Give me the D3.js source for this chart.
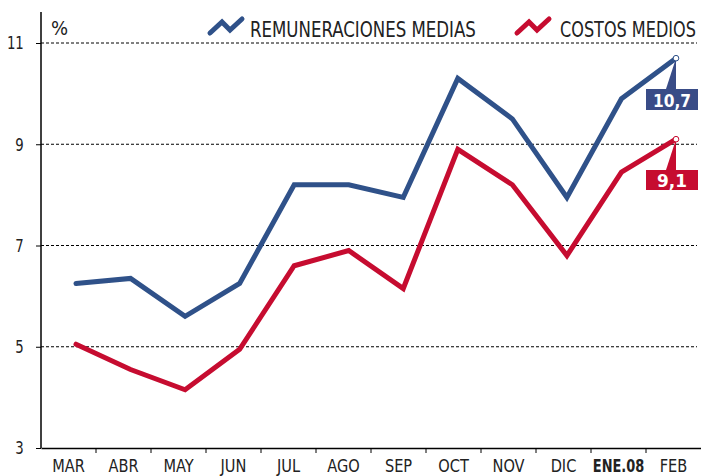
<!DOCTYPE html>
<html><head><meta charset="utf-8">
<script src="https://cdn.jsdelivr.net/npm/d3@7"></script>
<style>
body{margin:0;background:#fff;}
text{font-family:"DejaVu Sans Condensed","DejaVu Sans",sans-serif;}
</style></head><body>
<svg id="c" width="701" height="476"></svg>
<script>
const months = ["MAR","ABR","MAY","JUN","JUL","AGO","SEP","OCT","NOV","DIC","ENE.08","FEB"];
const remuneraciones = [6.25,6.35,5.6,6.25,8.2,8.2,7.95,10.3,9.5,7.95,9.9,10.7];
const costos = [5.05,4.55,4.15,4.95,6.6,6.9,6.15,8.9,8.2,6.8,8.45,9.1];
const yTicks = [3,5,7,9,11];
const seriesNames = ["REMUNERACIONES MEDIAS","COSTOS MEDIOS"];
const endLabels = ["10,7","9,1"];
const blue = "#2f5189", red = "#c60c30";
const boxBlue = "#394c87", boxRed = "#c60c30";

const svg = d3.select("#c");
const mLeft = 41, mRight = 701, mTop = 43, mBottom = 448;
const xBand = d3.scaleBand().domain(months).range([mLeft, mRight]);
const xPt = d3.scalePoint().domain(months).range([76, 676]);
const y = d3.scaleLinear().domain([3,11]).range([mBottom, mTop]);

// grid
svg.append("g").selectAll("line").data(yTicks.filter(d=>d>3)).join("line")
  .attr("x1", mLeft).attr("x2", 697).attr("y1", d=>y(d)).attr("y2", d=>y(d))
  .attr("stroke","#000").attr("stroke-width",1).attr("stroke-dasharray","3,2");

// y axis
const ya = svg.append("g").attr("transform",`translate(${mLeft},0)`)
  .call(d3.axisLeft(y).tickValues(yTicks).tickSize(5).tickPadding(16).tickFormat(d3.format("d")));
ya.select(".domain").attr("d",`M0,${mBottom}V12`).attr("stroke","#000").attr("stroke-width",1.5);
ya.selectAll(".tick line").attr("stroke","#000");
ya.selectAll("text").attr("font-size",18).attr("fill","#222").attr("font-family",null)
  .attr("transform","scale(0.82,1)");

// x axis
const xa = svg.append("g").attr("transform",`translate(0,${mBottom})`)
  .call(d3.axisBottom(xBand).tickSize(0).tickPadding(11));
xa.select(".domain").attr("stroke","#000").attr("stroke-width",1.5);
xa.selectAll("text").attr("font-size",18).attr("fill","#222").attr("font-family",null)
  .attr("font-weight", d=>d==="ENE.08"?"bold":"normal")
  .attr("transform", d=>d==="ENE.08"?"scale(0.8,1)":"scale(0.9,1)");
svg.append("g").selectAll("line").data(months.slice(1)).join("line")
  .attr("x1", d=>xBand(d)).attr("x2", d=>xBand(d)).attr("y1", mBottom).attr("y2", mBottom+5)
  .attr("stroke","#000").attr("stroke-width",1);

svg.append("text").attr("x",51).attr("y",35).attr("font-size",20).attr("fill","#222").text("%");

// lines
const line = d3.line().x((d,i)=>xPt(months[i])).y(d=>y(d));
[[remuneraciones,blue],[costos,red]].forEach(([data,col])=>{
  svg.append("path").datum(data).attr("d",line).attr("fill","none")
    .attr("stroke",col).attr("stroke-width",5).attr("stroke-linejoin","miter").attr("stroke-linecap","round");
});

// end labels
const last = months.length-1;
[[remuneraciones,boxBlue,blue,endLabels[0],89,110,38],[costos,boxRed,red,endLabels[1],170,190,30]].forEach(([data,bcol,col,txt,by0,by1,tl])=>{
  const px = xPt(months[last]), py = y(data[last]);
  const bx0 = 646, bx1 = 698;
  svg.append("path").attr("d",`M${px},${py}L${px-10},${by0}L${px},${by0}Z`).attr("fill",bcol);
  svg.append("rect").attr("x",bx0).attr("y",by0).attr("width",bx1-bx0).attr("height",by1-by0).attr("fill",bcol);
  svg.append("text").attr("x",(bx0+bx1)/2).attr("y",by1-3.5).attr("text-anchor","middle")
    .attr("font-family","'DejaVu Sans',sans-serif").attr("font-weight","bold").attr("font-size",18)
    .attr("textLength",tl).attr("lengthAdjust","spacingAndGlyphs").attr("fill","#fff").text(txt);
  svg.append("circle").attr("cx",px).attr("cy",py).attr("r",2.8).attr("fill","#fff").attr("stroke",col).attr("stroke-width",1);
});

// legend
function icon(x, col){
  svg.append("path").attr("d",`M${x},${33}L${x+12},${22}L${x+20},${30}L${x+32},${19}`)
    .attr("fill","none").attr("stroke",col).attr("stroke-width",5).attr("stroke-linecap","round").attr("stroke-linejoin","miter");
}
function legendText(x, w, txt){
  const t = svg.append("text").attr("x",0).attr("y",0).attr("font-size",22).attr("fill","#222").text(txt);
  const nat = t.node().getComputedTextLength();
  t.attr("transform",`translate(${x},37) scale(${w/nat},1)`);
}
icon(210, blue);
legendText(250, 226, seriesNames[0]);
icon(517, red);
legendText(560, 136, seriesNames[1]);
</script></body></html>
